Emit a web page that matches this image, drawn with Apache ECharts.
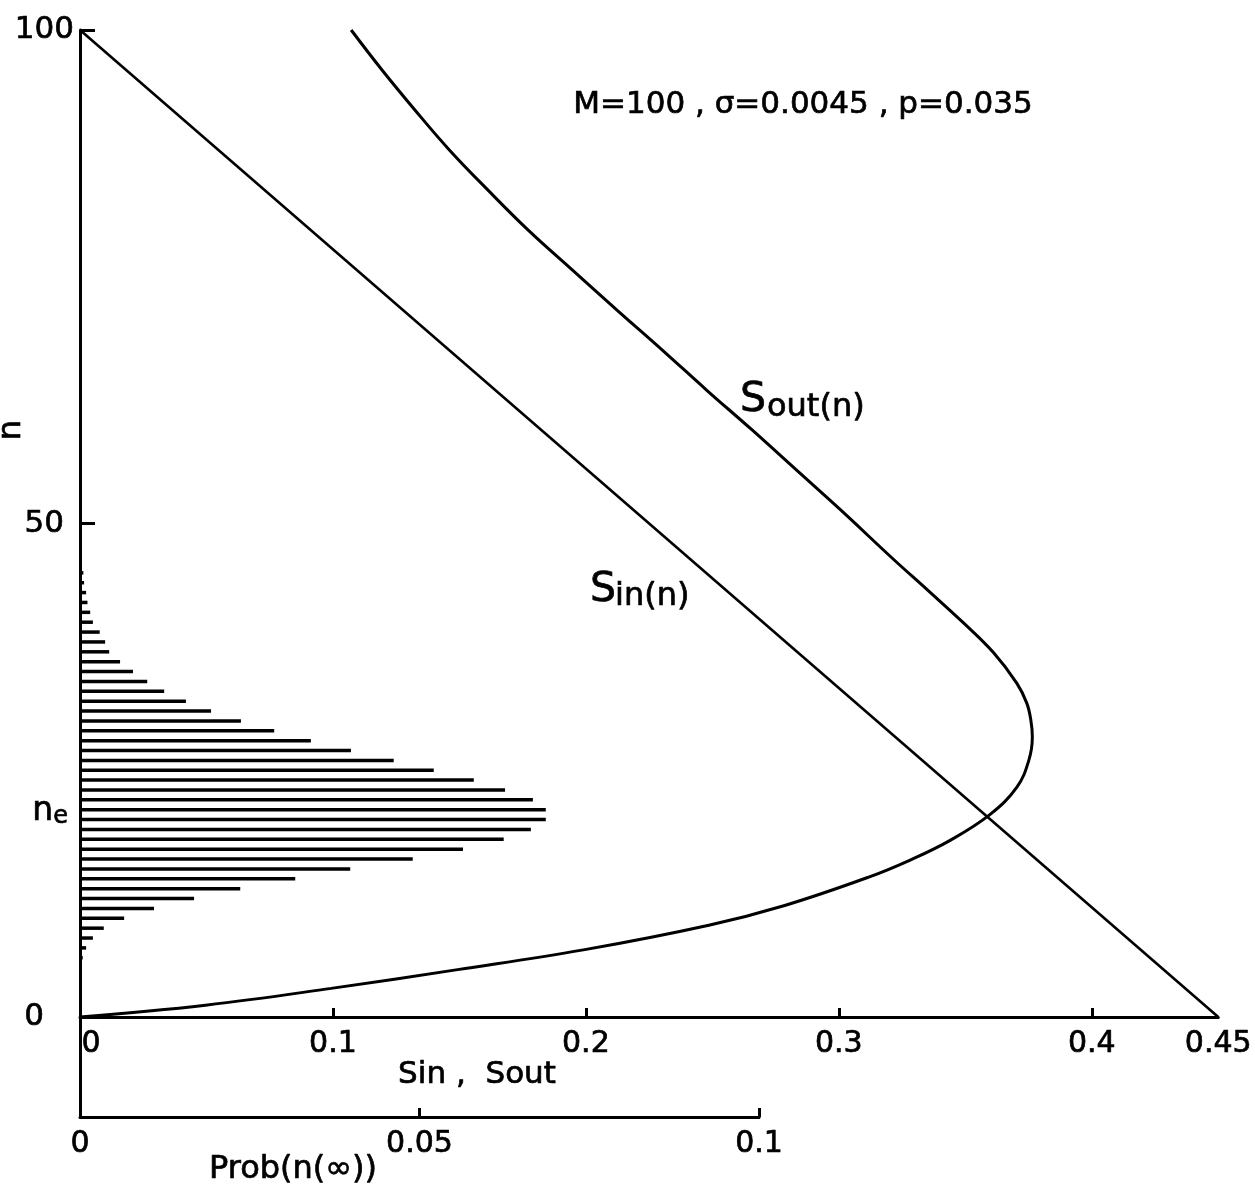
<!DOCTYPE html>
<html><head><meta charset="utf-8">
<script src="https://cdn.jsdelivr.net/npm/echarts@6/dist/echarts.min.js"></script>
<style>html,body{margin:0;padding:0;background:#fff}#c{width:1255px;height:1189px}</style>
</head><body><div id="c"></div>
<script>
// ---- data ----
const sinN = [0, 100];
const sinS = [0.45, 0];
const soutN = [0, 1.2, 2.9, 4.8, 6.8, 9.3, 11.3, 14.2, 15.9, 17.9, 20.5, 23.3, 26.0, 28.4, 30.1, 31.8, 33.8, 36.9, 39.9, 43.3, 46.3, 51.4, 55.4, 59.5, 63.5, 67.6, 71.6, 75.7, 79.7, 83.8, 87.8, 91.9, 95.95, 100];
const soutS = [0, 0.0496, 0.0993, 0.1493, 0.199, 0.2486, 0.2786, 0.3121, 0.3282, 0.344, 0.3597, 0.3704, 0.3751, 0.3765, 0.3759, 0.3743, 0.3704, 0.3612, 0.3494, 0.3349, 0.3219, 0.3006, 0.2833, 0.2656, 0.2478, 0.2301, 0.2124, 0.1946, 0.1773, 0.1612, 0.1462, 0.1324, 0.1194, 0.1072];
const probN = [45, 44, 43, 42, 41, 40, 39, 38, 37, 36, 35, 34, 33, 32, 31, 30, 29, 28, 27, 26, 25, 24, 23, 22, 21, 20, 19, 18, 17, 16, 15, 14, 13, 12, 11, 10, 9, 8, 7, 6];
const probV = [0.0005, 0.0006, 0.0009, 0.0011, 0.0015, 0.0019, 0.0029, 0.0037, 0.0043, 0.0059, 0.0078, 0.0099, 0.0124, 0.0156, 0.0193, 0.0237, 0.0286, 0.0340, 0.0399, 0.0462, 0.0521, 0.0580, 0.0626, 0.0667, 0.0686, 0.0686, 0.0664, 0.0624, 0.0564, 0.0490, 0.0398, 0.0317, 0.0236, 0.0168, 0.0109, 0.0065, 0.0035, 0.0019, 0.0009, 0.0004];
const sTickValues = [0.1, 0.2, 0.3, 0.4];
const sLabelValues = [0, 0.1, 0.2, 0.3, 0.4, 0.45];
const nLabelValues = [0, 50, 100];
const nE = 20.8;
const probTickValues = [0.05, 0.1];
const probLabelValues = [0, 0.05, 0.1];
const paramText = 'M=100 , σ=0.0045 , p=0.035';

// ---- layout ----
const L = 80, T = 30, W1 = 1142, H1 = 987, W2 = 679, H2 = 1087;
const yMin2 = -100 * (H2 - H1) / H1;
const FONT = "'DejaVu Sans', 'Liberation Sans', sans-serif";
const black = '#000';
const heavy = {textBorderColor: black, textBorderWidth: 0.7};
function rs(size, extra) { return Object.assign({color: black, fontFamily: FONT, fontSize: size}, heavy, extra || {}); }
function gtext(x, y, text, size, align) {
  return {type: 'text', x: x, y: y, style: {text: text, fill: black, font: size + 'px ' + FONT,
    align: align || 'left', verticalAlign: 'middle', stroke: black, lineWidth: 0.7}};
}

const chart = echarts.init(document.getElementById('c'), null, {renderer: 'canvas'});

chart.setOption({
  backgroundColor: '#fff',
  animation: false,
  grid: [
    {left: L, top: T, width: W1, height: H1},
    {left: L, top: T, width: W2, height: H2}
  ],
  xAxis: [
    {
      gridIndex: 0, type: 'value', min: 0, max: 0.45, position: 'bottom',
      axisLine: {onZero: false, lineStyle: {color: black, width: 3}},
      axisTick: {inside: true, length: 9, lineStyle: {color: black, width: 3}, customValues: sTickValues},
      axisLabel: Object.assign(rs(30), {
        margin: 12, customValues: sLabelValues,
        formatter: v => v === 0 ? '{z|0}' : String(v),
        rich: {z: rs(30, {padding: [0, 0, 0, 22]})}
      }),
      splitLine: {show: false}
    },
    {
      gridIndex: 1, type: 'value', min: 0, max: 0.1, position: 'bottom',
      axisLine: {onZero: false, lineStyle: {color: black, width: 3}},
      axisTick: {inside: true, length: 9, lineStyle: {color: black, width: 3}, customValues: probTickValues},
      axisLabel: Object.assign(rs(30), {margin: 12, customValues: probLabelValues, formatter: v => String(v)}),
      splitLine: {show: false}
    }
  ],
  yAxis: [
    {
      gridIndex: 0, type: 'value', min: 0, max: 100,
      axisLine: {show: false},
      axisTick: {inside: true, length: 15, lineStyle: {color: black, width: 3}, customValues: nLabelValues},
      axisLabel: {
        margin: 6, customValues: [0, nE, 50, 100],
        formatter: v => v === nE ? '{n|n}{e|e}' : (v === 0 ? '{z|0}' : (v === 50 ? '{f|50}' : '{h|100}')),
        rich: {
          n: rs(33),
          e: rs(24, {padding: [10, 6, 0, 0]}),
          z: rs(31, {padding: [0, 30, 0, 0]}),
          f: rs(31, {padding: [0, 10, 0, 0]}),
          h: rs(31)
        }
      },
      splitLine: {show: false}
    },
    {
      gridIndex: 1, type: 'value', min: yMin2, max: 100,
      axisLine: {show: true, onZero: false, lineStyle: {color: black, width: 3}},
      axisTick: {show: false}, axisLabel: {show: false}, splitLine: {show: false}
    }
  ],
  series: [
    {
      type: 'line', xAxisIndex: 0, yAxisIndex: 0, symbol: 'none', silent: true,
      data: sinN.map((n, i) => [sinS[i], n]),
      lineStyle: {color: black, width: 2.6}
    },
    {
      type: 'line', xAxisIndex: 0, yAxisIndex: 0, symbol: 'none', silent: true,
      smooth: 0.4,
      data: soutN.map((n, i) => [soutS[i], n]),
      lineStyle: {color: black, width: 3}
    },
    {
      type: 'custom', xAxisIndex: 1, yAxisIndex: 1, silent: true,
      data: probN.map((n, i) => [probV[i], n]),
      encode: {x: 0, y: 1},
      renderItem: function (params, api) {
        const p0 = api.coord([0, api.value(1)]);
        const p1 = api.coord([api.value(0), api.value(1)]);
        return {type: 'line', shape: {x1: p0[0], y1: p0[1], x2: p1[0], y2: p1[1]},
                style: {stroke: black, lineWidth: 3.5}};
      }
    }
  ],
  graphic: [
    gtext(803, 105, paramText, 31, 'center'),
    gtext(740, 400, 'S', 41),
    gtext(767, 408, 'out(n)', 32),
    gtext(590, 590, 'S', 41),
    gtext(615, 597, 'in(n)', 32),
    gtext(477, 1075, 'Sin ,  Sout', 31, 'center'),
    gtext(293, 1170, 'Prob(n(∞))', 32, 'center'),
    {type: 'text', x: 12, y: 430, rotation: Math.PI / 2, style: {text: 'n', fill: black, font: '32px ' + FONT, align: 'center', verticalAlign: 'middle', stroke: black, lineWidth: 0.7}}
  ]
});
</script>
</body></html>
